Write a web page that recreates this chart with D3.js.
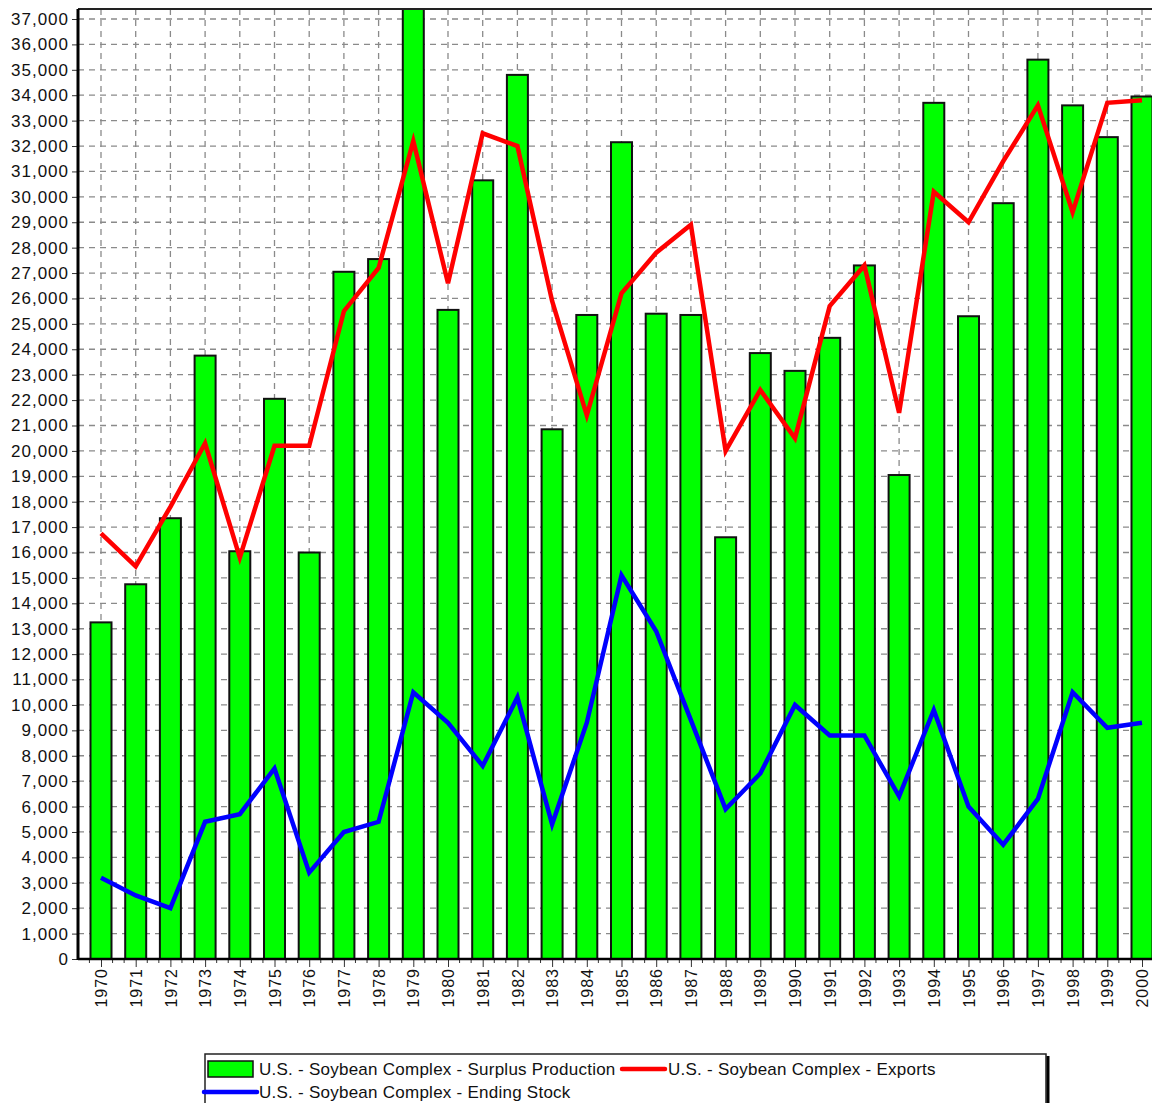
<!DOCTYPE html>
<html>
<head>
<meta charset="utf-8">
<script src="https://cdn.jsdelivr.net/npm/d3@7"></script>
<style>
body{margin:0;background:#fff;}
svg{display:block;font-family:"Liberation Sans",Arial,sans-serif;}
</style>
</head>
<body>
<svg id="chart" width="1152" height="1103"></svg>
<script>
//data
var years = ["1970","1971","1972","1973","1974","1975","1976","1977","1978","1979","1980",
             "1981","1982","1983","1984","1985","1986","1987","1988","1989","1990",
             "1991","1992","1993","1994","1995","1996","1997","1998","1999","2000"];

var surplusProduction = [13250,14750,17350,23750,16050,22050,16000,27050,27550,38500,25550,
                         30650,34800,20850,25350,32150,25400,25350,16600,23850,23150,
                         24450,27300,19050,33700,25300,29750,35400,33600,32350,33950];

var exportsData = [16750,15450,17800,20300,15800,20200,20200,25500,27200,32200,26600,
                   32500,32000,25900,21400,26200,27800,28900,20000,22400,20500,
                   25700,27300,21500,30200,29000,31400,33600,29400,33700,33800];

var endingStock = [3200,2500,2000,5400,5700,7500,3400,5000,5400,10500,9300,
                   7600,10300,5300,9300,15100,12900,9400,5900,7300,10000,
                   8800,8800,6400,9800,6000,4500,6300,10500,9100,9300];

var yTicks = d3.range(0, 37001, 1000);

var legendNames = ["U.S. - Soybean Complex - Surplus Production",
                   "U.S. - Soybean Complex - Exports",
                   "U.S. - Soybean Complex - Ending Stock"];

//layout
var plotLeft = 78, plotTop = 9, plotBottom = 959, plotRight = 1152;

var svg = d3.select("#chart");

var x = d3.scalePoint()
	.domain(years)
	.range([101, 1142]);
var step = x.step();
var barWidth = 21;

var y = d3.scaleLinear()
	.domain([0, 37000])
	.range([plotBottom, 19]);

svg.append("clipPath").attr("id", "plotClip")
	.append("rect")
	.attr("x", plotLeft).attr("y", plotTop)
	.attr("width", plotRight - plotLeft).attr("height", plotBottom - plotTop);

//grid
var grid = svg.append("g").attr("stroke", "#8a8a8a").attr("stroke-width", 1.3)
	.attr("stroke-dasharray", "6,5");

grid.selectAll(".hgrid")
	.data(yTicks.filter(function(d){ return d > 0; }))
	.enter().append("line")
	.attr("x1", plotLeft).attr("x2", plotRight)
	.attr("y1", function(d){ return y(d); })
	.attr("y2", function(d){ return y(d); });

grid.selectAll(".vgrid")
	.data(years)
	.enter().append("line")
	.attr("x1", function(d){ return x(d); })
	.attr("x2", function(d){ return x(d); })
	.attr("y1", plotTop).attr("y2", plotBottom);

//bars
var plot = svg.append("g").attr("clip-path", "url(#plotClip)");

plot.selectAll("rect.bar")
	.data(surplusProduction)
	.enter().append("rect")
	.attr("class", "bar")
	.attr("x", function(d, i){ return x(years[i]) - barWidth / 2; })
	.attr("y", function(d){ return y(d); })
	.attr("width", barWidth)
	.attr("height", function(d){ return plotBottom - y(d); })
	.attr("fill", "#00ff00")
	.attr("stroke", "#111")
	.attr("stroke-width", 2);

//lines
var line = d3.line()
	.x(function(d, i){ return x(years[i]); })
	.y(function(d){ return y(d); });

plot.append("path")
	.datum(exportsData)
	.attr("d", line)
	.attr("fill", "none")
	.attr("stroke", "#ff0000")
	.attr("stroke-width", 4.5)
	.attr("stroke-linejoin", "miter");

plot.append("path")
	.datum(endingStock)
	.attr("d", line)
	.attr("fill", "none")
	.attr("stroke", "#0000ff")
	.attr("stroke-width", 4.5)
	.attr("stroke-linejoin", "miter");

//frame
svg.append("line")
	.attr("x1", plotLeft).attr("x2", plotRight)
	.attr("y1", plotTop).attr("y2", plotTop)
	.attr("stroke", "#222").attr("stroke-width", 2);

//y axis
var yAxis = d3.axisLeft(y)
	.tickValues(yTicks)
	.tickFormat(d3.format(","))
	.tickSize(6)
	.tickPadding(3);

var yG = svg.append("g")
	.attr("transform", "translate(" + plotLeft + ",0)")
	.call(yAxis);
yG.select(".domain").remove();
yG.selectAll("text")
	.attr("font-size", 17)
	.attr("letter-spacing", 1)
	.attr("fill", "#111")
	.attr("font-family", "Liberation Sans, Arial, sans-serif");
yG.selectAll(".tick line").attr("stroke", "#333");

svg.append("line")
	.attr("x1", plotLeft).attr("x2", plotLeft)
	.attr("y1", plotTop).attr("y2", plotBottom + 1)
	.attr("stroke", "#000").attr("stroke-width", 3);

//x axis
var xAxis = d3.axisBottom(x)
	.tickSize(8)
	.tickPadding(4);

var xG = svg.append("g")
	.attr("transform", "translate(0," + plotBottom + ")")
	.call(xAxis);
xG.select(".domain").remove();
xG.selectAll(".tick line").attr("stroke", "#333");
xG.selectAll("text")
	.attr("font-size", 16)
	.attr("letter-spacing", 1)
	.attr("fill", "#111")
	.attr("font-family", "Liberation Sans, Arial, sans-serif")
	.attr("transform", "rotate(-90)")
	.attr("text-anchor", "end")
	.attr("dy", "0.35em")
	.attr("x", -9)
	.attr("y", 0);

//minor ticks between years
var minor = [];
years.forEach(function(d){
	[-1/3, 1/3].forEach(function(f){ minor.push(x(d) + f * step); });
});
svg.append("g").selectAll("line")
	.data(minor)
	.enter().append("line")
	.attr("x1", function(d){ return d; })
	.attr("x2", function(d){ return d; })
	.attr("y1", plotBottom).attr("y2", plotBottom + 4)
	.attr("stroke", "#333");

svg.append("line")
	.attr("x1", plotLeft).attr("x2", plotRight)
	.attr("y1", plotBottom).attr("y2", plotBottom)
	.attr("stroke", "#000").attr("stroke-width", 2.5);

//legend
var legend = svg.append("g");
legend.append("rect")
	.attr("x", 205).attr("y", 1054)
	.attr("width", 841).attr("height", 60)
	.attr("fill", "#fff").attr("stroke", "#222").attr("stroke-width", 1.5);
legend.append("line")
	.attr("x1", 1048).attr("x2", 1048)
	.attr("y1", 1056).attr("y2", 1103)
	.attr("stroke", "#000").attr("stroke-width", 3);

legend.append("rect")
	.attr("x", 208).attr("y", 1061)
	.attr("width", 45).attr("height", 16)
	.attr("fill", "#00ff00").attr("stroke", "#111").attr("stroke-width", 1.5);
legend.append("line")
	.attr("x1", 622).attr("x2", 665)
	.attr("y1", 1069).attr("y2", 1069)
	.attr("stroke", "#ff0000").attr("stroke-width", 4.5).attr("stroke-linecap", "round");
legend.append("line")
	.attr("x1", 204).attr("x2", 257)
	.attr("y1", 1092).attr("y2", 1092)
	.attr("stroke", "#0000ff").attr("stroke-width", 4.5).attr("stroke-linecap", "round");

var legendPos = [[259, 1069], [668, 1069], [259, 1092]];
legend.selectAll("text")
	.data(legendNames)
	.enter().append("text")
	.attr("x", function(d, i){ return legendPos[i][0]; })
	.attr("y", function(d, i){ return legendPos[i][1]; })
	.attr("dy", "0.35em")
	.attr("font-size", 17)
	.attr("letter-spacing", 0.25)
	.attr("fill", "#111")
	.text(function(d){ return d; });
</script>
</body>
</html>
